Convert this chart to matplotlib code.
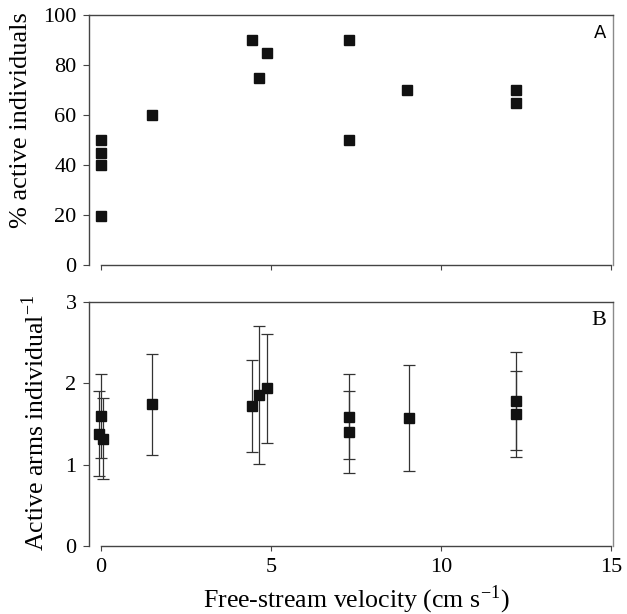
import matplotlib
matplotlib.use("Agg")
import matplotlib.pyplot as plt

plt.rcParams['font.family'] = ['Liberation Serif', 'DejaVu Serif']
plt.rcParams['mathtext.fontset'] = 'stix'

# Panel A data
a_vel = [0.0, 0.0, 0.0, 0.0, 1.5, 4.45, 4.65, 4.88, 7.3, 7.3, 9.0, 12.2, 12.2]
a_pct = [50, 45, 40, 19.5, 60, 90, 75, 85, 90, 50, 70, 70, 65]

# Panel B data
b_vel = [-0.05, 0.0, 0.05, 1.5, 4.45, 4.65, 4.88, 7.3, 7.3, 9.05, 12.2, 12.2]
b_arms = [1.38, 1.60, 1.32, 1.745, 1.72, 1.86, 1.94, 1.59, 1.40, 1.57, 1.78, 1.62]
b_err = [0.52, 0.52, 0.50, 0.62, 0.57, 0.85, 0.67, 0.52, 0.50, 0.65, 0.60, 0.53]

a_yticks = [0, 20, 40, 60, 80, 100]
b_yticks = [0, 1, 2, 3]
x_ticks = [0, 5, 10, 15]

W, H = 627, 614
fig = plt.figure(figsize=(W / 100, H / 100), dpi=100)

def px_axes(x0, x1, ytop, ybot):
    return fig.add_axes([x0 / W, (H - ybot) / H, (x1 - x0) / W, (ybot - ytop) / H])

axA = px_axes(89, 613, 15, 265)
axB = px_axes(89, 613, 302, 546)

spine_col = '#444444'
for ax in (axA, axB):
    ax.set_xlim(-0.35, 15.05)
    ax.spines['bottom'].set_bounds(0, 15)
    for s in ax.spines.values():
        s.set_color(spine_col)
        s.set_linewidth(1.0)
    ax.spines['right'].set_color('#8a8a8a')
    ax.set_xticks(x_ticks)
    ax.tick_params(axis='x', direction='out', length=3.5, width=0.8, color=spine_col,
                   labelsize=16, pad=5)
    ax.tick_params(axis='y', direction='out', length=4, width=0.8, color=spine_col,
                   labelsize=16, pad=5)

axA.plot(a_vel, a_pct, 's', color='#111111', ms=7.5, mec='#111111')
axA.set_ylim(0, 100)
axA.set_yticks(a_yticks)
axA.set_xticklabels([])
axA.set_ylabel('% active individuals', fontsize=19)
axA.yaxis.set_label_coords(-0.109, 0.58)
axA.text(0.987, 0.928, 'A', transform=axA.transAxes, fontsize=13,
         ha='right', va='center', family=['DejaVu Sans'])

axB.errorbar(b_vel, b_arms, yerr=b_err, fmt='s', color='#111111', ms=7.8,
             ecolor='#333333', elinewidth=0.9, capsize=4.5, capthick=0.9)
axB.set_ylim(0, 3)
axB.set_yticks(b_yticks)
axB.set_ylabel('Active arms individual$^{\\mathregular{-1}}$', fontsize=18.5)
axB.yaxis.set_label_coords(-0.076, 0.506)
axB.set_xlabel('Free-stream velocity (cm s$^{\\mathregular{-1}}$)', fontsize=18.6,
               va='baseline')
axB.xaxis.set_label_coords(0.511, -0.25)
axB.text(0.987, 0.924, 'B', transform=axB.transAxes, fontsize=16,
         ha='right', va='center')

fig.savefig('out.png', dpi=100)
